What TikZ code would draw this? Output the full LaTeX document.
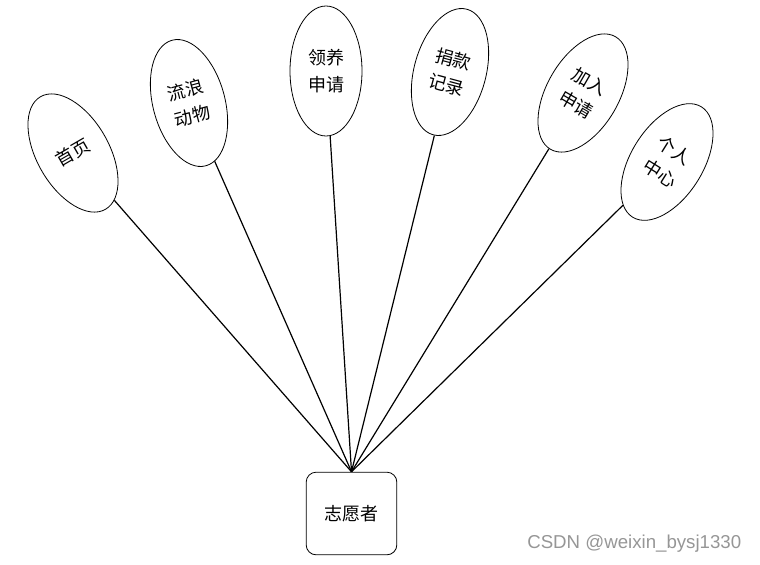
\documentclass[tikz,border=0pt]{standalone}
\usepackage{fontspec}
\newfontfamily\cjk{Noto Sans CJK SC}
\setsansfont{Liberation Sans}
\usepackage{tikz}
\usetikzlibrary{shapes.geometric, positioning}
\definecolor{markgray}{RGB}{150,150,150}

\begin{document}
\begin{tikzpicture}[
    x=0.75pt, y=-0.75pt,
    func/.style={draw, ellipse, line width=0.6pt, minimum width=54pt, minimum height=97.5pt, inner sep=0pt, align=center, font=\cjk\fontsize{13.5}{20}\selectfont},
    role/.style={draw, rounded corners=7.5pt, line width=0.6pt, minimum width=68pt, minimum height=62pt, font=\cjk\fontsize{13.5}{16}\selectfont},
    link/.style={line width=0.9pt, black},
  ]
  \useasboundingbox (0,0) rectangle (760,564);
  \node[role] (vol) at (351.5,513.5) {志愿者};
  \node[func, rotate=30] (home) at (73,153) {首页};
  \node[func, rotate=15] (pets) at (189,103) {流浪\\动物};
  \node[func] (adopt) at (326,71) {领养\\申请};
  \node[func, rotate=-15] (donate) at (450,72) {捐款\\记录};
  \node[func, rotate=-30] (join) at (583,93) {加入\\申请};
  \node[func, rotate=-32] (mine) at (667,162) {个人\\中心};
  \foreach \a in {home,pets,adopt,donate,join,mine}
    \draw[link] (\a) -- (vol.north);
  \node[font=\sffamily\fontsize{14}{16}\selectfont, text=markgray, anchor=east] (mark) at (746,544) {CSDN @weixin\_bysj1330};
\end{tikzpicture}
\end{document}
